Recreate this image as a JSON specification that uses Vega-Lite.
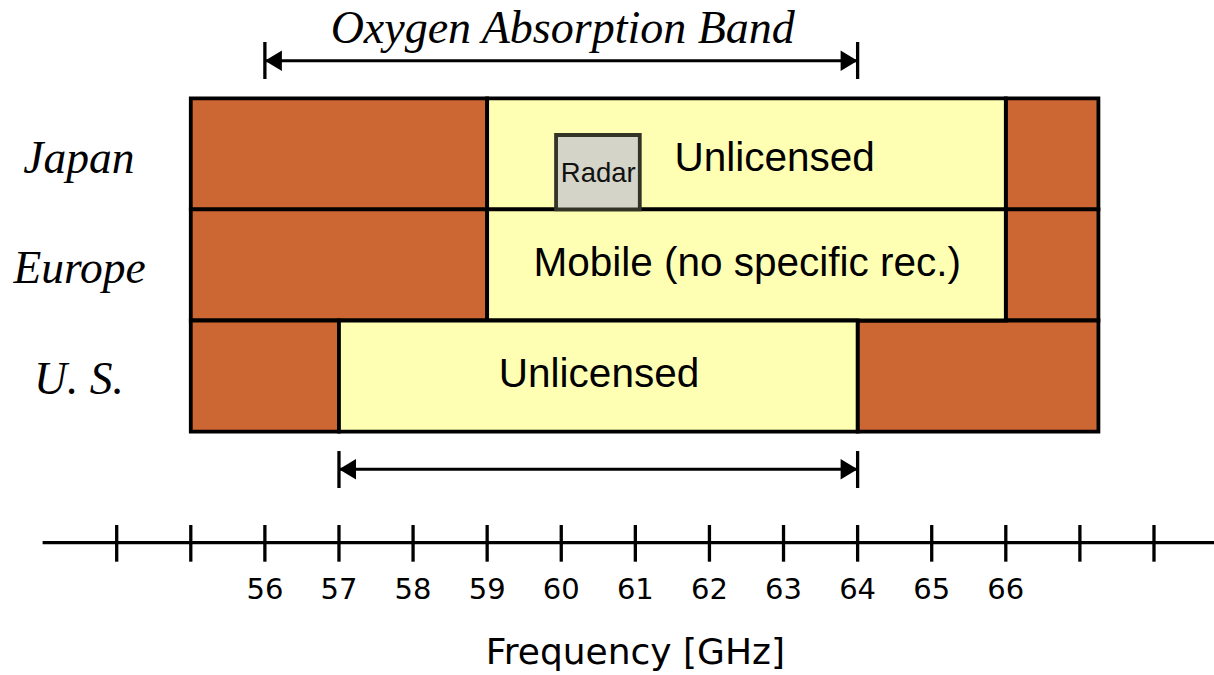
{
  "$schema": "https://vega.github.io/schema/vega-lite/v6.json",
  "width": 1214,
  "height": 675,
  "autosize": {"type": "none"},
  "padding": 0,
  "background": "white",
  "config": {"view": {"stroke": null}},
  "datasets": {
    "bands": [
      {"country": "Japan", "x": 55, "x2": 59, "y": 0, "y2": 1, "kind": "other"},
      {"country": "Japan", "x": 66, "x2": 67.25, "y": 0, "y2": 1, "kind": "other"},
      {"country": "Europe", "x": 55, "x2": 59, "y": 1, "y2": 2, "kind": "other"},
      {"country": "Europe", "x": 66, "x2": 67.25, "y": 1, "y2": 2, "kind": "other"},
      {"country": "U. S.", "x": 55, "x2": 57, "y": 2, "y2": 3, "kind": "other"},
      {"country": "U. S.", "x": 64, "x2": 67.25, "y": 2, "y2": 3, "kind": "other"},
      {"country": "Japan", "x": 59, "x2": 66, "y": 0, "y2": 1, "kind": "unlicensed"},
      {"country": "Europe", "x": 59, "x2": 66, "y": 1, "y2": 2, "kind": "mobile"},
      {"country": "U. S.", "x": 57, "x2": 64, "y": 2, "y2": 3, "kind": "unlicensed"}
    ],
    "radar": [
      {"country": "Japan", "x": 59.93, "x2": 61.06, "y": 0.33, "y2": 1, "label": "Radar", "lx": 60.5, "ly": 0.753}
    ],
    "bandLabels": [
      {"label": "Unlicensed", "x": 62.88, "y": 0.655},
      {"label": "Mobile (no specific rec.)", "x": 62.51, "y": 1.6},
      {"label": "Unlicensed", "x": 60.51, "y": 2.597}
    ],
    "countries": [
      {"label": "Japan", "x": 53.49, "y": 0.675},
      {"label": "Europe", "x": 53.5, "y": 1.665},
      {"label": "U. S.", "x": 53.49, "y": 2.666}
    ],
    "title": [
      {"label": "Oxygen Absorption Band", "x": 60.02, "y": -0.5}
    ],
    "arrows": [
      {"name": "oxygen", "x": 56, "x2": 64, "y": -0.338},
      {"name": "us", "x": 57, "x2": 64, "y": 3.339}
    ],
    "arrowEnds": [
      {"name": "oxygen", "x": 56, "y": -0.507, "y2": -0.174},
      {"name": "oxygen", "x": 64, "y": -0.507, "y2": -0.174},
      {"name": "us", "x": 57, "y": 3.175, "y2": 3.508},
      {"name": "us", "x": 64, "y": 3.175, "y2": 3.508}
    ],
    "headsLeft": [
      {"name": "oxygen", "x": 56.115, "y": -0.338},
      {"name": "us", "x": 57.115, "y": 3.339}
    ],
    "headsRight": [
      {"name": "oxygen", "x": 63.885, "y": -0.338},
      {"name": "us", "x": 63.885, "y": 3.339}
    ],
    "axisLine": [
      {"x": 53.0, "x2": 68.9, "y": 4.0}
    ],
    "ticks": [
      {"x": 54, "label": ""}, {"x": 55, "label": ""}, {"x": 56, "label": "56"},
      {"x": 57, "label": "57"}, {"x": 58, "label": "58"}, {"x": 59, "label": "59"},
      {"x": 60, "label": "60"}, {"x": 61, "label": "61"}, {"x": 62, "label": "62"},
      {"x": 63, "label": "63"}, {"x": 64, "label": "64"}, {"x": 65, "label": "65"},
      {"x": 66, "label": "66"}, {"x": 67, "label": ""}, {"x": 68, "label": ""}
    ],
    "axisTitle": [
      {"label": "Frequency [GHz]", "x": 61.0, "y": 5.09}
    ]
  },
  "layer": [
    {
      "data": {"name": "bands"},
      "mark": {"type": "rect", "stroke": "black", "strokeWidth": 3.8},
      "encoding": {
        "x": {"field": "x", "type": "quantitative", "axis": null, "scale": {"domain": [52.425, 68.81], "nice": false, "zero": false}},
        "x2": {"field": "x2"},
        "y": {"field": "y", "type": "quantitative", "axis": null, "scale": {"domain": [-0.885, 5.191], "nice": false, "zero": false, "reverse": true}},
        "y2": {"field": "y2"},
        "fill": {"field": "kind", "type": "nominal", "legend": null, "scale": {"domain": ["other", "unlicensed", "mobile"], "range": ["#CC6633", "#FFFFB3", "#FFFFB3"]}}
      }
    },
    {
      "data": {"name": "radar"},
      "mark": {"type": "rect", "fill": "#D4D4C8", "stroke": "#333326", "strokeWidth": 3.8},
      "encoding": {
        "x": {"field": "x", "type": "quantitative"},
        "x2": {"field": "x2"},
        "y": {"field": "y", "type": "quantitative"},
        "y2": {"field": "y2"}
      }
    },
    {
      "data": {"name": "radar"},
      "mark": {"type": "text", "font": "Liberation Sans", "fontSize": 27.5, "align": "center", "baseline": "alphabetic", "color": "#111111"},
      "encoding": {
        "x": {"field": "lx", "type": "quantitative"},
        "y": {"field": "ly", "type": "quantitative"},
        "text": {"field": "label"}
      }
    },
    {
      "data": {"name": "bandLabels"},
      "mark": {"type": "text", "font": "Liberation Sans", "fontSize": 40.5, "align": "center", "baseline": "alphabetic", "color": "black"},
      "encoding": {
        "x": {"field": "x", "type": "quantitative"},
        "y": {"field": "y", "type": "quantitative"},
        "text": {"field": "label"}
      }
    },
    {
      "data": {"name": "countries"},
      "mark": {"type": "text", "font": "Liberation Serif", "fontStyle": "italic", "fontSize": 45.5, "align": "center", "baseline": "alphabetic", "color": "black"},
      "encoding": {
        "x": {"field": "x", "type": "quantitative"},
        "y": {"field": "y", "type": "quantitative"},
        "text": {"field": "label"}
      }
    },
    {
      "data": {"name": "title"},
      "mark": {"type": "text", "font": "Liberation Serif", "fontStyle": "italic", "fontSize": 46, "align": "center", "baseline": "alphabetic", "color": "black"},
      "encoding": {
        "x": {"field": "x", "type": "quantitative"},
        "y": {"field": "y", "type": "quantitative"},
        "text": {"field": "label"}
      }
    },
    {
      "data": {"name": "arrows"},
      "mark": {"type": "rule", "color": "black", "strokeWidth": 3},
      "encoding": {
        "x": {"field": "x", "type": "quantitative"},
        "x2": {"field": "x2"},
        "y": {"field": "y", "type": "quantitative"}
      }
    },
    {
      "data": {"name": "arrowEnds"},
      "mark": {"type": "rule", "color": "black", "strokeWidth": 3.3},
      "encoding": {
        "x": {"field": "x", "type": "quantitative"},
        "y": {"field": "y", "type": "quantitative"},
        "y2": {"field": "y2"}
      }
    },
    {
      "data": {"name": "headsLeft"},
      "mark": {"type": "point", "shape": "M-1,0L1,-1.2L1,1.2Z", "filled": true, "color": "black", "opacity": 1, "size": 289},
      "encoding": {
        "x": {"field": "x", "type": "quantitative"},
        "y": {"field": "y", "type": "quantitative"}
      }
    },
    {
      "data": {"name": "headsRight"},
      "mark": {"type": "point", "shape": "M1,0L-1,-1.2L-1,1.2Z", "filled": true, "color": "black", "opacity": 1, "size": 289},
      "encoding": {
        "x": {"field": "x", "type": "quantitative"},
        "y": {"field": "y", "type": "quantitative"}
      }
    },
    {
      "data": {"name": "axisLine"},
      "mark": {"type": "rule", "color": "black", "strokeWidth": 3.3},
      "encoding": {
        "x": {"field": "x", "type": "quantitative"},
        "x2": {"field": "x2"},
        "y": {"field": "y", "type": "quantitative"}
      }
    },
    {
      "data": {"name": "ticks"},
      "mark": {"type": "rule", "color": "black", "strokeWidth": 3.3},
      "encoding": {
        "x": {"field": "x", "type": "quantitative"},
        "y": {"datum": 3.841, "type": "quantitative"},
        "y2": {"datum": 4.171}
      }
    },
    {
      "data": {"name": "ticks"},
      "mark": {"type": "text", "font": "DejaVu Sans", "fontSize": 29, "align": "center", "baseline": "alphabetic", "color": "black"},
      "encoding": {
        "x": {"field": "x", "type": "quantitative"},
        "y": {"datum": 4.507, "type": "quantitative"},
        "text": {"field": "label"}
      }
    },
    {
      "data": {"name": "axisTitle"},
      "mark": {"type": "text", "font": "DejaVu Sans", "fontSize": 36, "align": "center", "baseline": "alphabetic", "color": "black"},
      "encoding": {
        "x": {"field": "x", "type": "quantitative"},
        "y": {"field": "y", "type": "quantitative"},
        "text": {"field": "label"}
      }
    }
  ]
}
